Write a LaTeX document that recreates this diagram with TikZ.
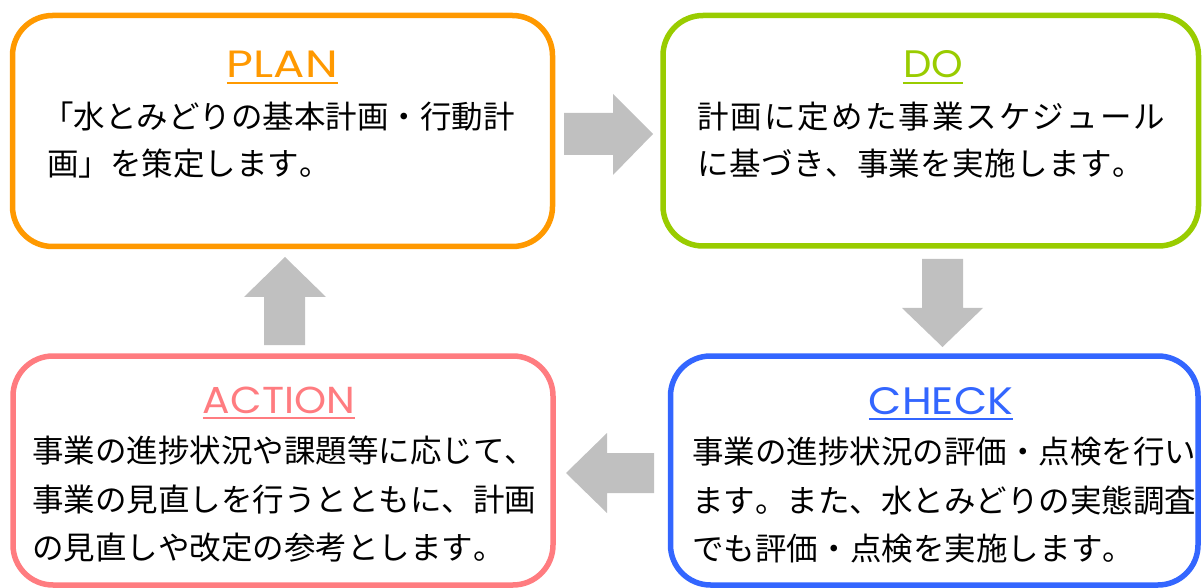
\documentclass[tikz,border=0pt]{standalone}
\usepackage{graphicx}
\usepackage{fontspec}
\newfontfamily\jp{Noto Sans CJK JP}
\newfontfamily\ttlfont{Poppins}
\definecolor{cplan}{HTML}{FF9900}
\definecolor{cdo}{HTML}{99CC00}
\definecolor{ccheck}{HTML}{3366FF}
\definecolor{caction}{HTML}{FF7C80}
\definecolor{agray}{HTML}{C0C0C0}
\def\jlA#1{#1\jlB}
\def\jlB#1{\ifx\relax#1\else\hfill#1\expandafter\jlB\fi}
\newcommand\jline[2]{\hbox to #1{\jlA#2\relax}}
\tikzset{
  card/.style={draw=#1, line width=5.5pt, rounded corners=40pt, inner sep=0pt, fill=white},
  jptext/.style={font=\jp\fontsize{31.5}{36}\selectfont, inner sep=0pt, anchor=base west, text=black},
  ttl/.style={font=\ttlfont, inner sep=0pt, anchor=base, text=#1},
  uline/.style={draw=#1, line width=2.3pt},
  blockarrow/.style={fill=agray, draw=none}
}
\begin{document}
\begin{tikzpicture}[x=1pt,y=-1pt]
\useasboundingbox (0,0) rectangle (1203,588);
% boxes
\node[card=cplan, minimum width=540pt, minimum height=231pt] (plan) at (282.5,131) {};
\node[card=cdo, minimum width=535.5pt, minimum height=230.5pt] (do) at (930.75,130.75) {};
\node[card=caction, minimum width=540pt, minimum height=229pt] (action) at (283,470.5) {};
\node[card=ccheck, minimum width=527.5pt, minimum height=229pt] (check) at (934.25,470.5) {};
% block arrows
\fill[blockarrow] (564,113) -- (613,113) -- (613,94) -- (653,134) -- (613,175) -- (613,155) -- (564,155) -- cycle;
\fill[blockarrow] (922,259) -- (963,259) -- (963,308) -- (983,308) -- (942.5,347) -- (902,308) -- (922,308) -- cycle;
\fill[blockarrow] (654,453) -- (607,453) -- (607,433) -- (566,473) -- (607,513) -- (607,493) -- (654,493) -- cycle;
\fill[blockarrow] (264,345) -- (264,297) -- (244,297) -- (285,257) -- (326,297) -- (305,297) -- (305,345) -- cycle;
% titles
\node[ttl=cplan] (tplan) at (282.5,78) {\resizebox{111pt}{26.5pt}{PLAN}};
\draw[uline=cplan] ([yshift=-5pt]tplan.base west) -- ([yshift=-5pt]tplan.base east);
\node[ttl=cdo] (tdo) at (933,78) {\resizebox{60pt}{27pt}{DO}};
\draw[uline=cdo] ([yshift=-5pt]tdo.base west) -- ([yshift=-5pt]tdo.base east);
\node[ttl=caction] (taction) at (279,413) {\resizebox{152pt}{26.5pt}{ACTION}};
\draw[uline=caction] ([yshift=-5pt]taction.base west) -- ([yshift=-5pt]taction.base east);
\node[ttl=ccheck] (tcheck) at (941,414) {\resizebox{144pt}{27pt}{CHECK}};
\draw[uline=ccheck] ([yshift=-5pt]tcheck.base west) -- ([yshift=-5pt]tcheck.base east);
% PLAN text
\node[jptext] (p1) at (42,128.5) {\jline{471pt}{「水とみどりの基本計画・行動計}};
\node[jptext] (p2) at (47,175.5) {\jline{280pt}{画」を策定します。}};
% DO text
\node[jptext] (d1) at (697,128.5) {\jline{468pt}{計画に定めた事業スケジュール}};
\node[jptext] (d2) at (697,175.5) {\jline{447pt}{に基づき、事業を実施します。}};
% ACTION text
\node[jptext] (a1) at (32,462.5) {\jline{499pt}{事業の進捗状況や課題等に応じて、}};
\node[jptext] (a2) at (32,511.5) {\jline{491pt}{事業の見直しを行うとともに、計画}};
\node[jptext] (a3) at (32,559.5) {\jline{468pt}{の見直しや改定の参考とします。}};
% CHECK text
\node[jptext] (c1) at (692,463.5) {\jline{501pt}{事業の進捗状況の評価・点検を行い}};
\node[jptext] (c2) at (692,512.5) {\jline{499pt}{ます。また、水とみどりの実態調査}};
\node[jptext] (c3) at (692,560.5) {\jline{442pt}{でも評価・点検を実施します。}};
\end{tikzpicture}
\end{document}
